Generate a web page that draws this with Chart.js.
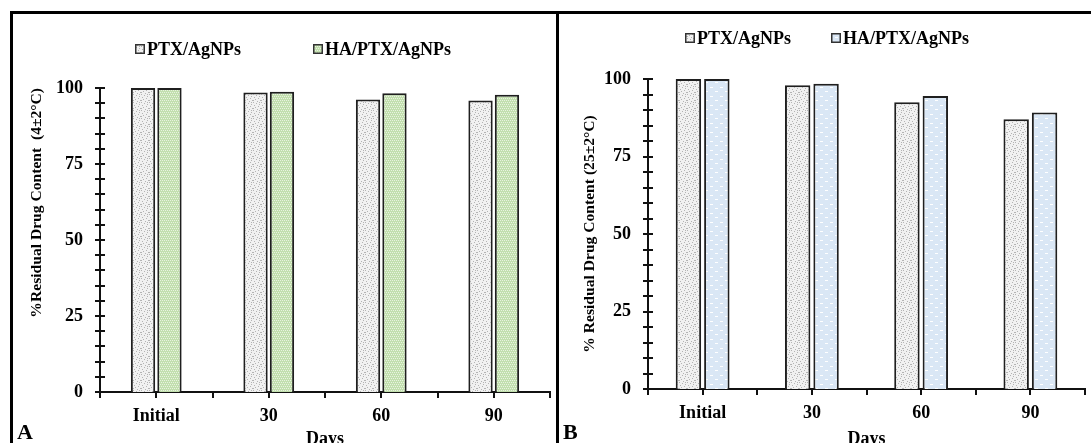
<!DOCTYPE html>
<html>
<head>
<meta charset="utf-8">
<script src="https://cdn.jsdelivr.net/npm/chart.js@4.4.1/dist/chart.umd.min.js"></script>
<style>
  html, body { margin: 0; padding: 0; background: #fff; }
  #wrap { position: relative; width: 1091px; height: 443px; overflow: hidden; font-family: "Liberation Serif", "Times New Roman", serif; }
  .frame { position: absolute; left: 10px; top: 11px; width: 1081px; height: 440px; border-top: 3px solid #000; border-left: 3px solid #000; box-sizing: border-box; }
  .divider { position: absolute; left: 556px; top: 11px; width: 3px; height: 440px; background: #000; }
  canvas { position: absolute; }
  #chartA { left: 13px; top: 14px; }
  #chartB { left: 559px; top: 14px; }
  .tag { position: absolute; font-weight: bold; font-size: 22px; line-height: 22px; color: #000; }
</style>
</head>
<body>
<div id="wrap">
  <div class="frame"></div>
  <div class="divider"></div>
  <canvas id="chartA" width="543" height="429"></canvas>
  <canvas id="chartB" width="532" height="429"></canvas>
  <div class="tag" style="left:17px; top:421px;">A</div>
  <div class="tag" style="left:563px; top:421px;">B</div>
</div>
<script>
// Kategoriler (gün)
const days = ['Initial', '30', '60', '90'];

// 4±2°C kalıntı ilaç içeriği (%)
const ptxCold = [100, 98.5, 96.2, 95.9];
const haCold = [100, 98.8, 98.3, 97.8];

// 25±2°C kalıntı ilaç içeriği (%)
const ptxRoom = [100, 98.0, 92.5, 87.0];
const haRoom = [100, 98.5, 94.5, 89.2];

// Y ekseni: 0-100, küçük çentik 5, etiket 25'te bir
const yMax = 100;
const yStep = 5;
const yLabelEvery = 25;

const seriesNames = ['PTX/AgNPs', 'HA/PTX/AgNPs'];

const SERIF = '"Liberation Serif", "Times New Roman", serif';
Chart.defaults.font.family = SERIF;
Chart.defaults.color = '#000';

/**
 * Küçük tuval üzerinde tekrar eden dolgu deseni üret
 */
function makePattern(w, h, base, dots, dotColor) {
    const tile = document.createElement('canvas');
    tile.width = w;
    tile.height = h;
    const t = tile.getContext('2d');
    t.fillStyle = base;
    t.fillRect(0, 0, w, h);
    t.fillStyle = dotColor;
    dots.forEach(([x, y, dw, dh]) => t.fillRect(x, y, dw || 1, dh || 1));
    return t.createPattern(tile, 'repeat');
}

const dottedGray = makePattern(8, 8, '#f1f1f1',
    [[0, 0], [3, 1], [6, 2], [1, 3], [5, 4], [2, 5], [7, 6], [4, 7], [0, 6], [6, 0]], '#b4b4b4');
const dottedGreen = makePattern(4, 4, '#c2dfae',
    [[0, 0], [2, 0], [1, 2], [3, 2]], '#e8f3e0');
const dashedBlue = makePattern(10, 9, '#dae7f5',
    [[1, 1, 3, 1], [6, 5, 3, 1]], '#ffffff');

// Eksen çentikleri: y ekseninde iki yana taşan, x ekseninde aşağı doğru
const axisTicksPlugin = {
    id: 'axisTicks',
    afterDraw(chart) {
        const { ctx, scales: { x, y } } = chart;
        ctx.save();
        ctx.strokeStyle = '#111';
        ctx.lineWidth = 2;
        ctx.beginPath();
        y.ticks.forEach(t => {
            const py = Math.round(y.getPixelForValue(t.value));
            ctx.moveTo(x.left - 5, py);
            ctx.lineTo(x.left + 5, py);
        });
        const half = (x.getPixelForValue(1) - x.getPixelForValue(0)) / 2;
        const base = y.getPixelForValue(0);
        for (let i = 0; i < x.ticks.length; i++) {
            const c = x.getPixelForValue(i);
            [c - half, c, c + half].forEach(px => {
                ctx.moveTo(Math.round(px), base);
                ctx.lineTo(Math.round(px), base + 6);
            });
        }
        ctx.stroke();
        ctx.restore();
    }
};

// Desenli kutularla lejant
const patternLegendPlugin = {
    id: 'patternLegend',
    afterDraw(chart, args, opts) {
        const { ctx } = chart;
        ctx.save();
        ctx.font = 'bold 18px ' + SERIF;
        ctx.textBaseline = 'middle';
        chart.data.datasets.forEach((ds, i) => {
            const bx = opts.x[i];
            const by = opts.y;
            ctx.fillStyle = ds.backgroundColor;
            ctx.fillRect(bx, by - 5, 10, 10);
            ctx.strokeStyle = '#333';
            ctx.lineWidth = 1.5;
            ctx.strokeRect(bx + 0.75, by - 4.25, 8.5, 8.5);
            ctx.fillStyle = '#000';
            ctx.fillText(ds.label, bx + 12, by + 1);
        });
        ctx.restore();
    }
};

function buildChart(canvasId, ptx, ha, haFill, cfg) {
    const ctx = document.getElementById(canvasId).getContext('2d');
    return new Chart(ctx, {
        type: 'bar',
        data: {
            labels: days,
            datasets: [
                {
                    label: seriesNames[0],
                    data: ptx,
                    backgroundColor: dottedGray,
                    borderColor: '#1f1f1f',
                    borderWidth: 2
                },
                {
                    label: seriesNames[1],
                    data: ha,
                    backgroundColor: haFill,
                    borderColor: '#1f1f1f',
                    borderWidth: 2
                }
            ]
        },
        options: {
            responsive: false,
            animation: false,
            categoryPercentage: cfg.catPct,
            barPercentage: cfg.barPct,
            layout: {
                padding: { left: 0, right: 6, top: cfg.top, bottom: 0 }
            },
            plugins: {
                legend: { display: false },
                tooltip: { enabled: false },
                patternLegend: cfg.legend
            },
            scales: {
                x: {
                    grid: { display: false, drawTicks: false },
                    border: { display: true, color: '#111', width: 2 },
                    ticks: {
                        padding: 14,
                        font: { size: 18, weight: 'bold' }
                    },
                    title: {
                        display: true,
                        text: 'Days',
                        font: { size: 18, weight: 'bold' },
                        padding: { top: 0, bottom: -7 }
                    },
                    afterFit(scale) { scale.height = cfg.xHeight; }
                },
                y: {
                    min: 0,
                    max: yMax,
                    grid: { display: false, drawTicks: false },
                    border: { display: true, color: '#111', width: 2 },
                    ticks: {
                        stepSize: yStep,
                        autoSkip: false,
                        padding: 17,
                        font: { size: 18, weight: 'bold' },
                        callback: v => (v % yLabelEvery === 0 ? v : '')
                    },
                    title: {
                        display: true,
                        text: cfg.yTitle,
                        align: cfg.yAlign,
                        font: { size: 15.6, weight: 'bold' },
                        padding: { top: cfg.yTitlePad, bottom: 0 }
                    },
                    afterFit(scale) { scale.width = cfg.yWidth; }
                }
            }
        },
        plugins: [axisTicksPlugin, patternLegendPlugin]
    });
}

buildChart('chartA', ptxCold, haCold, dottedGreen, {
    top: 74, xHeight: 51, yWidth: 87,
    catPct: 0.47, barPct: 0.92,
    yTitle: '%Residual Drug Content  (4±2°C)', yAlign: 'end', yTitlePad: 15,
    legend: { x: [122, 300], y: 35 }
});

buildChart('chartB', ptxRoom, haRoom, dashedBlue, {
    top: 65, xHeight: 54, yWidth: 89,
    catPct: 0.52, barPct: 0.895,
    yTitle: '% Residual Drug Content (25±2°C)', yAlign: 'center', yTitlePad: 22,
    legend: { x: [126, 272], y: 24 }
});
</script>
</body>
</html>
